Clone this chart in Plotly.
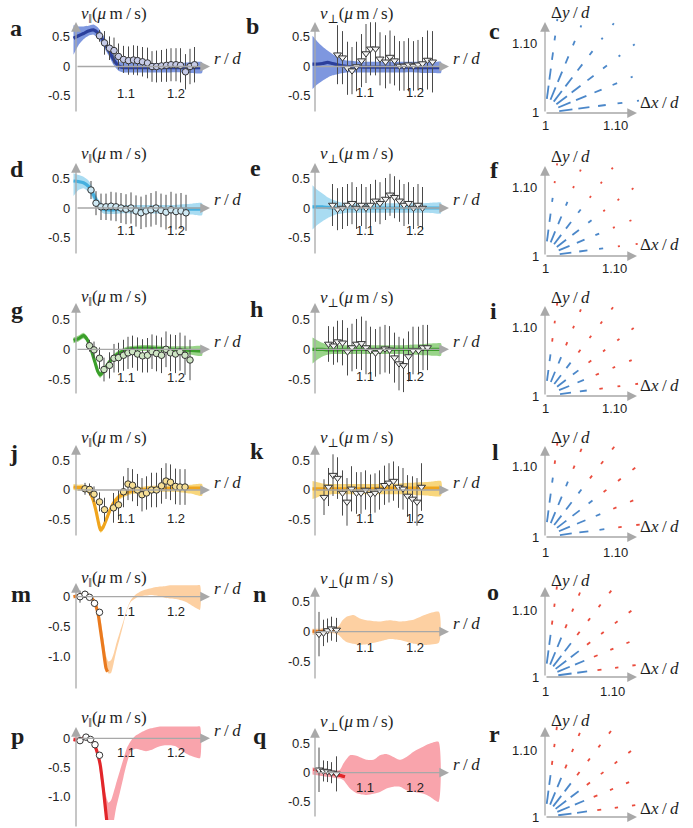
import math
import plotly.graph_objects as go

W, H = 693, 828
AX_COL = '#a8a8a8'
TXT = '#1e1e1e'
BLUE_Q = '#4b87c9'
RED_Q = '#ea4c3d'
EB_COL = '#4a4a4a'

# ---------------- DATA ----------------
# panel a  (v_par, blue)
a_r  = [0.995, 1.005, 1.015, 1.025, 1.035, 1.045, 1.055, 1.065, 1.075, 1.085, 1.095, 1.11, 1.13, 1.15, 1.17, 1.19, 1.21, 1.23, 1.252]
a_v  = [0.48, 0.52, 0.56, 0.60, 0.62, 0.56, 0.43, 0.28, 0.12, 0.01, -0.02, -0.02, -0.02, -0.02, -0.02, -0.02, -0.02, -0.02, -0.02]
a_hi = [0.70, 0.68, 0.68, 0.69, 0.71, 0.65, 0.52, 0.37, 0.21, 0.09, 0.06, 0.06, 0.06, 0.06, 0.06, 0.06, 0.06, 0.07, 0.07]
a_lo = [0.20, 0.36, 0.46, 0.52, 0.54, 0.47, 0.34, 0.19, 0.03, -0.07, -0.10, -0.10, -0.10, -0.10, -0.10, -0.10, -0.10, -0.11, -0.11]
a_pr = [1.047, 1.057, 1.067, 1.076, 1.085, 1.095, 1.105, 1.115, 1.123, 1.133, 1.143, 1.152, 1.161, 1.171, 1.181, 1.190, 1.200, 1.209, 1.219, 1.228, 1.237]
a_pv = [0.52, 0.40, 0.31, 0.27, 0.17, 0.12, 0.10, 0.11, 0.10, 0.08, 0.06, 0.00, 0.00, 0.01, 0.02, 0.03, 0.03, 0.02, -0.09, 0.00, 0.03]
a_pe = [0.10, 0.20, 0.20, 0.22, 0.22, 0.23, 0.24, 0.25, 0.25, 0.25, 0.26, 0.26, 0.27, 0.27, 0.28, 0.28, 0.28, 0.29, 0.30, 0.30, 0.30]

# panel b  (v_perp, blue)
b_r  = [0.995, 1.005, 1.015, 1.025, 1.035, 1.045, 1.055, 1.065, 1.08, 1.10, 1.12, 1.14, 1.16, 1.18, 1.20, 1.22, 1.24, 1.252]
b_v  = [0.04, 0.04, 0.05, 0.07, 0.05, 0.03, 0.01, 0.00, 0.00, -0.01, -0.01, -0.01, -0.01, -0.01, -0.02, -0.02, -0.02, -0.02]
b_hi = [0.52, 0.42, 0.34, 0.27, 0.21, 0.16, 0.12, 0.10, 0.09, 0.08, 0.08, 0.08, 0.08, 0.08, 0.08, 0.08, 0.08, 0.08]
b_lo = [-0.38, -0.30, -0.24, -0.19, -0.15, -0.13, -0.11, -0.10, -0.10, -0.10, -0.10, -0.10, -0.10, -0.10, -0.10, -0.11, -0.11, -0.11]
b_pr = [1.045, 1.055, 1.065, 1.074, 1.083, 1.093, 1.102, 1.111, 1.121, 1.130, 1.141, 1.150, 1.159, 1.169, 1.178, 1.187, 1.197, 1.206, 1.215, 1.225, 1.235]
b_pv = [0.20, 0.15, -0.03, -0.07, 0.00, 0.10, 0.22, 0.30, 0.30, 0.13, 0.08, 0.16, 0.10, 0.01, 0.01, 0.03, 0.01, 0.03, 0.05, 0.11, 0.08]
b_pe = [0.50, 0.45, 0.45, 0.40, 0.42, 0.45, 0.50, 0.45, 0.45, 0.45, 0.45, 0.45, 0.42, 0.42, 0.42, 0.45, 0.42, 0.42, 0.45, 0.50, 0.52]

# panel d  (v_par, cyan)
d_r  = [0.995, 1.005, 1.015, 1.025, 1.035, 1.045, 1.055, 1.065, 1.075, 1.09, 1.11, 1.13, 1.15, 1.17, 1.19, 1.21, 1.23, 1.252]
d_v  = [0.45, 0.44, 0.42, 0.36, 0.22, 0.06, -0.02, -0.03, -0.03, -0.02, -0.02, -0.02, -0.02, -0.02, -0.02, -0.02, -0.02, -0.02]
d_hi = [0.58, 0.55, 0.52, 0.46, 0.32, 0.14, 0.06, 0.05, 0.05, 0.05, 0.05, 0.05, 0.05, 0.05, 0.05, 0.06, 0.07, 0.08]
d_lo = [0.20, 0.30, 0.33, 0.27, 0.13, -0.02, -0.09, -0.10, -0.10, -0.09, -0.09, -0.09, -0.09, -0.09, -0.09, -0.10, -0.11, -0.12]
d_pr = [1.030, 1.040, 1.050, 1.060, 1.070, 1.080, 1.090, 1.100, 1.110, 1.120, 1.130, 1.140, 1.150, 1.160, 1.170, 1.180, 1.190, 1.200, 1.210, 1.220]
d_pv = [0.30, 0.08, 0.02, 0.02, 0.03, 0.02, 0.00, -0.02, 0.00, -0.05, -0.08, -0.05, -0.03, 0.00, -0.04, -0.07, -0.03, -0.06, -0.05, -0.08]
d_pe = [0.15, 0.20, 0.22, 0.22, 0.24, 0.24, 0.25, 0.25, 0.26, 0.26, 0.27, 0.27, 0.28, 0.28, 0.28, 0.29, 0.30, 0.30, 0.30, 0.30]

# panel e  (v_perp, cyan)
e_r  = [0.995, 1.005, 1.015, 1.025, 1.035, 1.045, 1.055, 1.065, 1.08, 1.10, 1.12, 1.14, 1.16, 1.18, 1.20, 1.22, 1.24, 1.252]
e_v  = [0.02, 0.02, 0.02, 0.01, 0.00, 0.00, 0.00, 0.00, 0.00, 0.00, 0.00, 0.00, 0.00, 0.00, 0.00, 0.00, 0.00, 0.00]
e_hi = [0.38, 0.30, 0.24, 0.18, 0.14, 0.11, 0.09, 0.08, 0.08, 0.08, 0.08, 0.08, 0.08, 0.08, 0.08, 0.08, 0.09, 0.09]
e_lo = [-0.36, -0.28, -0.22, -0.17, -0.13, -0.10, -0.09, -0.08, -0.08, -0.08, -0.08, -0.08, -0.08, -0.08, -0.08, -0.08, -0.09, -0.09]
e_pr = [1.035, 1.045, 1.055, 1.065, 1.074, 1.083, 1.093, 1.102, 1.111, 1.121, 1.130, 1.141, 1.150, 1.159, 1.169, 1.178, 1.187, 1.197, 1.206, 1.215]
e_pv = [0.05, -0.02, 0.00, 0.05, 0.08, 0.00, 0.05, 0.00, 0.05, 0.12, 0.08, 0.15, 0.22, 0.18, 0.12, 0.05, 0.08, 0.00, 0.05, 0.00]
e_pe = [0.35, 0.35, 0.35, 0.35, 0.35, 0.35, 0.35, 0.35, 0.35, 0.35, 0.35, 0.35, 0.35, 0.35, 0.35, 0.35, 0.35, 0.35, 0.35, 0.35]

# panel g  (v_par, green)
g_r  = [0.995, 1.005, 1.015, 1.022, 1.030, 1.038, 1.044, 1.048, 1.055, 1.062, 1.070, 1.080, 1.090, 1.100, 1.115, 1.13, 1.15, 1.17, 1.19, 1.21, 1.23, 1.252]
g_v  = [0.15, 0.18, 0.23, 0.17, 0.00, -0.22, -0.38, -0.43, -0.37, -0.27, -0.18, -0.10, -0.05, -0.01, 0.01, 0.02, 0.02, 0.01, 0.00, -0.01, -0.02, -0.03]
g_hi = [0.20, 0.23, 0.28, 0.22, 0.05, -0.17, -0.33, -0.38, -0.32, -0.22, -0.13, -0.05, 0.00, 0.04, 0.06, 0.07, 0.07, 0.06, 0.05, 0.05, 0.05, 0.05]
g_lo = [0.10, 0.13, 0.18, 0.12, -0.05, -0.27, -0.43, -0.48, -0.42, -0.32, -0.23, -0.15, -0.10, -0.06, -0.04, -0.03, -0.03, -0.04, -0.05, -0.07, -0.09, -0.11]
g_pr = [1.027, 1.036, 1.047, 1.056, 1.067, 1.076, 1.085, 1.095, 1.104, 1.113, 1.123, 1.133, 1.143, 1.152, 1.161, 1.171, 1.180, 1.189, 1.199, 1.208, 1.218, 1.228]
g_pv = [0.06, -0.01, -0.15, -0.34, -0.27, -0.15, -0.14, -0.10, -0.06, -0.04, -0.08, -0.11, -0.10, -0.04, -0.07, -0.10, 0.00, -0.06, -0.08, -0.04, -0.10, -0.18]
g_pe = [0.10, 0.14, 0.18, 0.20, 0.22, 0.24, 0.25, 0.26, 0.27, 0.27, 0.28, 0.28, 0.29, 0.29, 0.30, 0.30, 0.30, 0.31, 0.32, 0.32, 0.33, 0.34]

# panel h  (v_perp, green)
h_r  = [0.995, 1.005, 1.015, 1.025, 1.035, 1.045, 1.06, 1.08, 1.10, 1.12, 1.14, 1.16, 1.18, 1.20, 1.22, 1.24, 1.252]
h_v  = [0.00, 0.00, 0.00, -0.01, -0.01, -0.01, 0.00, 0.00, 0.00, 0.00, 0.00, 0.00, 0.00, 0.00, 0.00, 0.00, 0.00]
h_hi = [0.20, 0.15, 0.11, 0.08, 0.07, 0.07, 0.07, 0.07, 0.07, 0.07, 0.07, 0.07, 0.07, 0.08, 0.09, 0.10, 0.10]
h_lo = [-0.24, -0.17, -0.12, -0.09, -0.08, -0.08, -0.08, -0.08, -0.08, -0.08, -0.08, -0.08, -0.08, -0.09, -0.10, -0.11, -0.11]
h_pr = [1.027, 1.037, 1.045, 1.055, 1.065, 1.074, 1.083, 1.093, 1.102, 1.111, 1.121, 1.130, 1.140, 1.149, 1.159, 1.168, 1.177, 1.187, 1.196, 1.207, 1.216, 1.225]
h_pv = [0.09, 0.06, 0.13, 0.11, -0.04, 0.03, 0.09, 0.10, 0.03, -0.02, -0.06, -0.02, 0.01, -0.01, -0.14, -0.24, -0.27, -0.12, -0.02, -0.02, 0.03, 0.03]
h_pe = [0.30, 0.32, 0.35, 0.38, 0.40, 0.40, 0.42, 0.45, 0.45, 0.40, 0.40, 0.40, 0.40, 0.40, 0.42, 0.45, 0.45, 0.42, 0.40, 0.40, 0.38, 0.38]

# panel j  (v_par, yellow-orange)
j_r  = [0.995, 1.005, 1.015, 1.022, 1.028, 1.034, 1.040, 1.045, 1.049, 1.054, 1.060, 1.067, 1.075, 1.085, 1.095, 1.11, 1.13, 1.15, 1.17, 1.19, 1.21, 1.23, 1.252]
j_v  = [0.05, 0.04, 0.04, 0.02, -0.05, -0.16, -0.35, -0.55, -0.67, -0.63, -0.51, -0.36, -0.22, -0.12, -0.07, -0.02, 0.00, 0.02, 0.02, 0.03, 0.03, 0.03, 0.03]
j_hi = [0.10, 0.09, 0.09, 0.07, 0.00, -0.11, -0.30, -0.50, -0.62, -0.58, -0.46, -0.31, -0.17, -0.07, -0.02, 0.03, 0.05, 0.07, 0.07, 0.08, 0.08, 0.09, 0.10]
j_lo = [0.00, -0.01, -0.01, -0.03, -0.10, -0.21, -0.40, -0.60, -0.72, -0.68, -0.56, -0.41, -0.27, -0.17, -0.12, -0.07, -0.05, -0.03, -0.03, -0.03, -0.04, -0.06, -0.10]
j_pr = [1.018, 1.027, 1.036, 1.047, 1.057, 1.075, 1.085, 1.095, 1.104, 1.113, 1.123, 1.132, 1.141, 1.151, 1.161, 1.171, 1.180, 1.189, 1.199, 1.208, 1.218]
j_pv = [0.02, 0.01, -0.07, -0.20, -0.33, -0.30, -0.25, -0.03, 0.10, 0.08, 0.00, -0.08, -0.05, 0.00, 0.00, 0.07, 0.15, 0.13, 0.06, 0.05, 0.05]
j_pe = [0.10, 0.10, 0.13, 0.16, 0.20, 0.25, 0.25, 0.26, 0.27, 0.27, 0.27, 0.28, 0.28, 0.29, 0.29, 0.30, 0.30, 0.30, 0.30, 0.30, 0.30]

# panel k  (v_perp, yellow-orange)
k_r  = [0.995, 1.005, 1.015, 1.025, 1.035, 1.05, 1.07, 1.09, 1.11, 1.13, 1.15, 1.17, 1.19, 1.21, 1.23, 1.252]
k_v  = [0.02, 0.02, 0.02, 0.02, 0.02, 0.02, 0.02, 0.02, 0.02, 0.03, 0.03, 0.03, 0.03, 0.03, 0.03, 0.03]
k_hi = [0.15, 0.13, 0.11, 0.10, 0.10, 0.10, 0.10, 0.10, 0.10, 0.10, 0.10, 0.11, 0.12, 0.13, 0.14, 0.15]
k_lo = [-0.15, -0.12, -0.09, -0.08, -0.07, -0.07, -0.07, -0.07, -0.07, -0.07, -0.07, -0.07, -0.08, -0.09, -0.10, -0.10]
k_pr = [1.018, 1.027, 1.036, 1.045, 1.055, 1.064, 1.073, 1.083, 1.092, 1.101, 1.111, 1.120, 1.129, 1.139, 1.148, 1.157, 1.167, 1.176, 1.185, 1.195, 1.204, 1.213]
k_pv = [-0.12, 0.05, 0.25, 0.20, -0.05, -0.20, 0.02, -0.05, -0.05, 0.00, -0.07, -0.05, 0.00, 0.08, 0.12, 0.15, 0.05, 0.02, -0.10, -0.15, -0.20, 0.05]
k_pe = [0.30, 0.32, 0.35, 0.35, 0.38, 0.40, 0.38, 0.35, 0.35, 0.33, 0.33, 0.33, 0.33, 0.33, 0.33, 0.33, 0.35, 0.35, 0.35, 0.38, 0.40, 0.40]

# panel m  (v_par, orange)
m_r  = [0.995, 1.005, 1.012, 1.020, 1.028, 1.033, 1.038, 1.0447, 1.048, 1.0547, 1.060, 1.063]
m_v  = [0.00, 0.02, 0.03, 0.03, 0.01, -0.04, -0.11, -0.31, -0.50, -0.89, -1.19, -1.25]
m_br = [0.995, 1.010, 1.020, 1.030, 1.038, 1.045, 1.050, 1.055, 1.060, 1.065, 1.070, 1.075, 1.080, 1.088, 1.095, 1.102, 1.110, 1.120, 1.130, 1.140, 1.150, 1.160, 1.170, 1.180, 1.190, 1.200, 1.210, 1.220, 1.230, 1.240, 1.248]
m_hi = [0.03, 0.05, 0.05, 0.03, -0.06, -0.24, -0.42, -0.70, -0.98, -1.08, -1.06, -0.96, -0.80, -0.58, -0.40, -0.20, -0.05, 0.04, 0.09, 0.12, 0.14, 0.16, 0.17, 0.18, 0.19, 0.19, 0.19, 0.19, 0.19, 0.19, 0.19]
m_lo = [-0.03, 0.00, 0.00, -0.03, -0.14, -0.36, -0.60, -0.92, -1.20, -1.28, -1.27, -1.12, -0.93, -0.68, -0.45, -0.22, -0.08, -0.02, 0.01, 0.02, 0.03, 0.02, 0.00, -0.02, -0.03, -0.04, -0.06, -0.09, -0.14, -0.19, -0.22]
m_pr = [1.008, 1.018, 1.027, 1.037, 1.047]
m_pv = [0.00, 0.04, -0.01, -0.11, -0.26]
m_pe = [0.10, 0.06, 0.03, 0.03, 0.02]

# panel n  (v_perp, orange)
n_r  = [0.995, 1.010, 1.020, 1.030, 1.040, 1.048]
n_v  = [0.01, 0.00, 0.02, 0.03, 0.03, 0.02]
n_br = [0.995, 1.010, 1.025, 1.040, 1.048, 1.055, 1.063, 1.077, 1.090, 1.103, 1.115, 1.130, 1.150, 1.170, 1.197, 1.223, 1.248]
n_hi = [0.05, 0.05, 0.06, 0.06, 0.10, 0.19, 0.25, 0.28, 0.22, 0.19, 0.18, 0.17, 0.19, 0.17, 0.20, 0.29, 0.33]
n_lo = [-0.05, -0.04, -0.03, -0.03, -0.06, -0.12, -0.17, -0.20, -0.22, -0.21, -0.19, -0.16, -0.12, -0.14, -0.20, -0.22, -0.18]
n_pr = [1.008, 1.017, 1.025, 1.033, 1.043]
n_pv = [-0.04, -0.02, 0.02, 0.05, 0.03]
n_pe = [0.37, 0.22, 0.20, 0.20, 0.20]

# panel p  (v_par, red)
p_r  = [0.995, 1.005, 1.012, 1.020, 1.028, 1.035, 1.041, 1.048, 1.055, 1.061, 1.064]
p_v  = [-0.02, -0.03, -0.01, 0.02, -0.01, -0.08, -0.20, -0.43, -0.89, -1.37, -1.55]
p_br = [0.995, 1.010, 1.020, 1.030, 1.038, 1.045, 1.050, 1.055, 1.060, 1.065, 1.070, 1.075, 1.080, 1.088, 1.095, 1.102, 1.110, 1.120, 1.130, 1.140, 1.150, 1.160, 1.170, 1.180, 1.190, 1.200, 1.210, 1.220, 1.230, 1.240, 1.248]
p_hi = [0.02, 0.02, 0.05, 0.02, -0.08, -0.28, -0.50, -0.78, -0.98, -1.10, -1.06, -0.93, -0.78, -0.55, -0.35, -0.16, -0.04, 0.05, 0.10, 0.14, 0.17, 0.19, 0.20, 0.20, 0.20, 0.20, 0.20, 0.20, 0.20, 0.20, 0.20]
p_lo = [-0.06, -0.06, -0.02, -0.06, -0.18, -0.42, -0.72, -1.05, -1.40, -1.60, -1.60, -1.45, -1.20, -0.92, -0.66, -0.42, -0.22, -0.18, -0.20, -0.22, -0.20, -0.16, -0.13, -0.12, -0.12, -0.14, -0.20, -0.26, -0.30, -0.33, -0.34]
p_pr = [1.008, 1.020, 1.029, 1.038, 1.047]
p_pv = [-0.04, 0.02, -0.02, -0.11, -0.29]
p_pe = [0.03, 0.03, 0.03, 0.03, 0.03]

# panel q  (v_perp, red)
q_r  = [0.997, 1.012, 1.027, 1.042, 1.052, 1.060]
q_v  = [0.06, 0.03, 0.00, -0.03, -0.05, -0.07]
q_br = [0.995, 1.010, 1.025, 1.040, 1.050, 1.057, 1.070, 1.083, 1.103, 1.117, 1.130, 1.143, 1.157, 1.170, 1.183, 1.197, 1.217, 1.230, 1.247]
q_hi = [0.09, 0.07, 0.05, 0.03, 0.05, 0.16, 0.30, 0.29, 0.22, 0.22, 0.30, 0.32, 0.27, 0.22, 0.27, 0.36, 0.45, 0.50, 0.53]
q_lo = [-0.03, -0.05, -0.07, -0.09, -0.10, -0.13, -0.27, -0.35, -0.38, -0.36, -0.33, -0.27, -0.24, -0.24, -0.30, -0.33, -0.36, -0.41, -0.50]
q_pr = [1.008, 1.017, 1.025, 1.033, 1.043]
q_pv = [0.05, 0.03, 0.02, 0.00, -0.02]
q_pe = [0.38, 0.18, 0.18, 0.18, 0.30]

# flow-field panels (c, f, i, l, o, r): rays at fixed angles, samples along radius
ray_angles = [7.5, 22.5, 37.5, 52.5, 67.5, 82.5]
ray_rho = [0.030, 0.056, 0.082, 0.108, 0.134, 0.160]
c_len = [0.019, 0.016, 0.011, 0.007, 0.003, 0.003]
c_sgn = [1, 1, 1, 1, 1, 1]
f_len = [0.017, 0.012, 0.006, 0.003, 0.003, 0.003]
f_sgn = [1, 1, 1, -1, -1, -1]
i_len = [0.016, 0.010, 0.005, 0.004, 0.004, 0.004]
i_sgn = [1, 1, -1, -1, -1, -1]
l_len = [0.017, 0.013, 0.007, 0.005, 0.005, 0.005]
l_sgn = [1, 1, 1, -1, -1, -1]
o_len = [0.020, 0.015, 0.006, 0.005, 0.005, 0.005]
o_sgn = [1, 1, -1, -1, -1, -1]
r_len = [0.020, 0.015, 0.006, 0.005, 0.005, 0.005]
r_sgn = [1, 1, -1, -1, -1, -1]

y_ticks_pos = [(0.5, '0.5'), (0.0, '0'), (-0.5, '-0.5')]
y_ticks_neg = [(0.0, '0'), (-0.5, '-0.5'), (-1.0, '-1.0')]
x_ticks = [(1.1, '1.1'), (1.2, '1.2')]

# ---------------- FIGURE ----------------
fig = go.Figure()
axes_layout = {}
ann = []
counter = [0]

SERIF = 'Liberation Serif, DejaVu Serif, serif'


def new_axes(box, xmap, ymap):
    counter[0] += 1
    n = counter[0]
    L, T, R, B = box
    xp0, xv0, xs = xmap
    yp0, yv0, ys = ymap
    xr = [xv0 + (L - xp0) / xs, xv0 + (R - xp0) / xs]
    yr = [yv0 + (yp0 - B) / ys, yv0 + (yp0 - T) / ys]
    suf = '' if n == 1 else str(n)
    axes_layout['xaxis' + suf] = dict(domain=[L / W, R / W], range=xr, visible=False,
                                      anchor='y' + suf, fixedrange=True)
    axes_layout['yaxis' + suf] = dict(domain=[1 - B / H, 1 - T / H], range=yr, visible=False,
                                      anchor='x' + suf, fixedrange=True)
    return 'x' + suf, 'y' + suf


def arrow(tip, tail):
    ann.append(dict(x=tip[0] / W, y=1 - tip[1] / H, xref='paper', yref='paper',
                    ax=tail[0] - tip[0], ay=tail[1] - tip[1], axref='pixel', ayref='pixel',
                    showarrow=True, arrowhead=2, arrowsize=1.5, arrowwidth=1.3,
                    arrowcolor=AX_COL, text=''))


def label(px, py, text, size=13, family='Liberation Sans', xanchor='center', color=TXT):
    ann.append(dict(x=px / W, y=1 - py / H, xref='paper', yref='paper', text=text,
                    showarrow=False, xanchor=xanchor, yanchor='middle',
                    font=dict(size=size, family=family, color=color)))


def letter(px, py, s):
    label(px, py, '<b>%s</b>' % s, size=24, family=SERIF, xanchor='left')


PAR_T = '<i>v</i><sub>‖</sub>(<i>μ</i>\u2009m\u2009/\u2009s)'
PERP_T = '<i>v</i><sub>⊥</sub>(<i>μ</i>\u2009m\u2009/\u2009s)'
RD_T = '<i>r</i>\u2009/\u2009<i>d</i>'
DY_T = 'Δ<i>y</i>\u2009/\u2009<i>d</i>'
DX_T = 'Δ<i>x</i>\u2009/\u2009<i>d</i>'

COL_AX = [76, 315]
COL_LR = [72, 312]
COL_TIP = [210, 449]
COL_BOX = [(40, 236), (280, 476)]


def vel_panel(col, row_top, row_bot, zero, scale, top, bot, xlab_y, title_y, ticks, title,
              band_r, lo, hi, line_r, line_v, pr, pv, pe, band_col, line_col, fill, symbol):
    L, R = COL_BOX[col]
    xa, ya = new_axes((L, row_top, R, row_bot), (COL_AX[col], 1.0, 500.0), (zero, 0.0, scale))
    fig.add_trace(go.Scatter(x=band_r + band_r[::-1], y=hi + lo[::-1], mode='lines',
                             fill='toself', fillcolor=band_col,
                             line=dict(width=0, shape='spline', smoothing=0.6),
                             xaxis=xa, yaxis=ya, hoverinfo='skip', showlegend=False))
    fig.add_trace(go.Scatter(x=line_r, y=line_v, mode='lines',
                             line=dict(color=line_col, width=3.2, shape='spline', smoothing=0.6),
                             xaxis=xa, yaxis=ya, hoverinfo='skip', showlegend=False))
    fig.add_trace(go.Scatter(x=pr, y=pv, mode='markers',
                             marker=dict(symbol=symbol, size=6.5 if symbol == 'circle' else 7,
                                         color=fill, line=dict(color='#333333', width=1)),
                             error_y=dict(type='data', array=pe, color=EB_COL, thickness=1, width=0),
                             xaxis=xa, yaxis=ya, hoverinfo='skip', showlegend=False))
    ax = COL_AX[col]
    arrow((ax, top), (ax, bot))
    arrow((COL_TIP[col], zero), (ax, zero))
    for v, s in ticks:
        label(COL_LR[col], zero - v * scale, s, xanchor='right')
    for v, s in x_ticks:
        label(ax + (v - 1.0) * 500.0, xlab_y, s)
    label(ax + 3, title_y, title, size=17, family=SERIF, xanchor='left')
    label(COL_TIP[col] + 2, zero - 8, RD_T, size=17, family=SERIF, xanchor='left')


def flow_panel(axis_y, scale, top, dy_y, dx_y, xlab_y, lens, sgns):
    xa, ya = new_axes((520, top - 4, 641, axis_y + 2), (545, 1.0, scale), (axis_y, 1.0, scale))
    for sgn, colr in [(1, BLUE_Q), (-1, RED_Q)]:
        xs, ys = [], []
        for th in ray_angles:
            c, s = math.cos(math.radians(th)), math.sin(math.radians(th))
            for rho, ln, sg in zip(ray_rho, lens, sgns):
                if sg != sgn:
                    continue
                r0, r1 = rho - ln / 2, rho + ln / 2
                xs += [1 + r0 * c, 1 + r1 * c, None]
                ys += [1 + r0 * s, 1 + r1 * s, None]
        fig.add_trace(go.Scatter(x=xs, y=ys, mode='lines', line=dict(color=colr, width=1.8),
                                 xaxis=xa, yaxis=ya, hoverinfo='skip', showlegend=False))
    arrow((545, top), (545, axis_y))
    arrow((637, axis_y), (545, axis_y))
    label(539, axis_y - 0.1 * scale, '1.10', xanchor='right')
    label(541, axis_y, '1', xanchor='right')
    if xlab_y is not None:
        label(545, xlab_y, '1')
        label(545 + 0.1 * scale, xlab_y, '1.10')
    label(549, dy_y, DY_T, size=17, family=SERIF, xanchor='left')
    label(638, dx_y, DX_T, size=17, family=SERIF, xanchor='left')


# colours
A_BAND, A_LINE, A_FILL = '#7e97df', '#2b3f9c', '#c6cbe8'
D_BAND, D_LINE, D_FILL = '#a9dcf2', '#45b0df', '#cfeaf5'
G_BAND, G_LINE, G_FILL = '#99d489', '#3b9f2b', '#cfe6c5'
J_BAND, J_LINE, J_FILL = '#f8d67c', '#f0a51d', '#f6df95'
M_BAND, M_LINE, M_FILL = '#fdd0a2', '#ea7a1e', '#ffffff'
P_BAND, P_LINE, P_FILL = '#f9a4ac', '#e2262a', '#ffffff'
T_FILL = '#f4f4f4'

# row 1
vel_panel(0, 0, 136, 66.5, 59, 22, 113, 93, 15, y_ticks_pos, PAR_T,
          a_r, a_lo, a_hi, a_r, a_v, a_pr, a_pv, a_pe, A_BAND, A_LINE, A_FILL, 'circle')
vel_panel(1, 0, 136, 66.5, 59, 22, 113, 92, 15, y_ticks_pos, PERP_T,
          b_r, b_lo, b_hi, b_r, b_v, b_pr, b_pv, b_pe, A_BAND, A_LINE, T_FILL, 'triangle-down')
flow_panel(113, 700, 22, 13, 102, 125, c_len, c_sgn)
# row 2
vel_panel(0, 138, 272, 208, 60, 163, 255, 230, 155, y_ticks_pos, PAR_T,
          d_r, d_lo, d_hi, d_r, d_v, d_pr, d_pv, d_pe, D_BAND, D_LINE, D_FILL, 'circle')
vel_panel(1, 138, 272, 208, 60, 163, 255, 230, 155, y_ticks_pos, PERP_T,
          e_r, e_lo, e_hi, e_r, e_v, e_pr, e_pv, e_pe, D_BAND, D_LINE, T_FILL, 'triangle-down')
flow_panel(256, 690, 166, 157, 245, 268, f_len, f_sgn)
# row 3
vel_panel(0, 276, 412, 349.3, 59.5, 303, 395, 377, 298, y_ticks_pos, PAR_T,
          g_r, g_lo, g_hi, g_r, g_v, g_pr, g_pv, g_pe, G_BAND, G_LINE, G_FILL, 'circle')
vel_panel(1, 276, 412, 349.3, 59.5, 303, 395, 376, 299, y_ticks_pos, PERP_T,
          h_r, h_lo, h_hi, h_r, h_v, h_pr, h_pv, h_pe, G_BAND, G_LINE, T_FILL, 'triangle-down')
flow_panel(396, 690, 306, 297, 385, 408, i_len, i_sgn)
# row 4
vel_panel(0, 414, 552, 490, 59.5, 445, 537, 518, 439, y_ticks_pos, PAR_T,
          j_r, j_lo, j_hi, j_r, j_v, j_pr, j_pv, j_pe, J_BAND, J_LINE, J_FILL, 'circle')
vel_panel(1, 414, 552, 490, 59.5, 445, 537, 518, 439, y_ticks_pos, PERP_T,
          k_r, k_lo, k_hi, k_r, k_v, k_pr, k_pv, k_pe, J_BAND, J_LINE, T_FILL, 'triangle-down')
flow_panel(537, 700, 446, 437, 526, 552, l_len, l_sgn)
# row 5
vel_panel(0, 556, 692, 596.7, 60, 583, 690, 611, 579, y_ticks_neg, PAR_T,
          m_br, m_lo, m_hi, m_r, m_v, m_pr, m_pv, m_pe, M_BAND, M_LINE, M_FILL, 'circle')
vel_panel(1, 556, 692, 631.7, 60, 587, 680, 647, 580, y_ticks_pos, PERP_T,
          n_br, n_lo, n_hi, n_r, n_v, n_pr, n_pv, n_pe, M_BAND, M_LINE, T_FILL, 'triangle-down')
flow_panel(677, 670, 587, 580, 668, 691, o_len, o_sgn)
# row 6
vel_panel(0, 694, 820, 738.3, 58.5, 727, 830, 752, 719, y_ticks_neg, PAR_T,
          p_br, p_lo, p_hi, p_r, p_v, p_pr, p_pv, p_pe, P_BAND, P_LINE, P_FILL, 'circle')
vel_panel(1, 694, 828, 772.7, 58.5, 728, 818, 787, 723, y_ticks_pos, PERP_T,
          q_br, q_lo, q_hi, q_r, q_v, q_pr, q_pv, q_pe, P_BAND, P_LINE, T_FILL, 'triangle-down')
flow_panel(817, 667, 727, 720, 808, None, r_len, r_sgn)

# panel letters
for s, x, y in [('a', 8, 28), ('b', 244, 26), ('c', 487, 31),
                ('d', 8, 169), ('e', 248, 168), ('f', 488, 170),
                ('g', 9, 310), ('h', 248, 309), ('i', 488, 311),
                ('j', 7, 453), ('k', 248, 451), ('l', 490, 452),
                ('m', 9, 594), ('n', 251, 594), ('o', 485, 592),
                ('p', 9, 736), ('q', 251, 736), ('r', 487, 734)]:
    letter(x, y, s)

fig.update_layout(width=W, height=H, margin=dict(l=0, r=0, t=0, b=0),
                  paper_bgcolor='white', plot_bgcolor='rgba(0,0,0,0)',
                  showlegend=False, annotations=ann, **axes_layout)
fig.write_html('out.html')
